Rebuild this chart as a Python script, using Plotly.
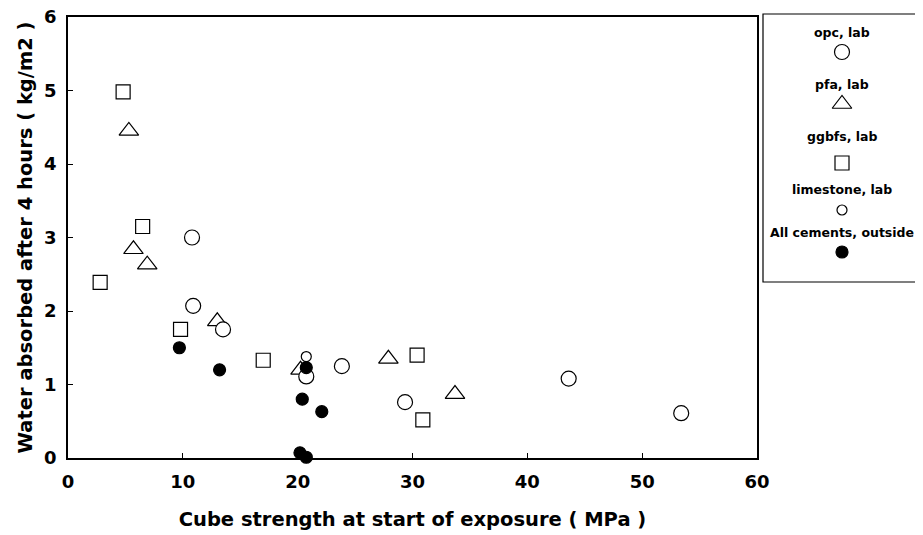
import plotly.graph_objects as go

# ---- data ----
opc_x = [10.8, 10.9, 13.5, 20.75, 23.85, 29.35, 43.6, 53.4]
opc_y = [3.00, 2.07, 1.75, 1.11, 1.25, 0.76, 1.08, 0.61]

pfa_x = [5.3, 5.7, 6.9, 13.0, 20.25, 27.9, 33.7]
pfa_y = [4.45, 2.84, 2.63, 1.86, 1.20, 1.35, 0.87]

ggbfs_x = [4.8, 6.5, 2.8, 9.8, 17.0, 30.4, 30.9]
ggbfs_y = [4.98, 3.15, 2.39, 1.75, 1.33, 1.40, 0.52]

lime_x = [20.75]
lime_y = [1.38]

out_x = [9.7, 13.2, 20.75, 20.4, 22.1, 20.2, 20.75]
out_y = [1.50, 1.20, 1.23, 0.80, 0.63, 0.07, 0.01]

series_names = ["opc, lab", "pfa, lab", "ggbfs, lab", "limestone, lab", "All cements, outside"]

x_ticks = [0, 10, 20, 30, 40, 50, 60]
y_ticks = [0, 1, 2, 3, 4, 5, 6]

# ---- layout geometry (page pixels; the page body has an 8px margin) ----
OFF = 8
PAGE_W, PAGE_H = 923, 535
W, H = PAGE_W - OFF, PAGE_H - OFF
plot_left, plot_top, plot_bottom, plot_right = 68, 17, 458, 757   # page coords
leg_left, leg_right, leg_top, leg_bot = 763, 921, 14, 282          # page coords
paper_top = min(plot_top, leg_top)
ML = plot_left - OFF
MT = paper_top - OFF
MB = PAGE_H - plot_bottom
paper_w = W - ML
paper_h = H - MT - MB
main_dom_x = [0, (plot_right - plot_left) / paper_w]
main_dom_y = [0, (plot_bottom - plot_top) / paper_h]
leg_dom_x = [(leg_left - plot_left) / paper_w, (leg_right - plot_left) / paper_w]
leg_dom_y = [(plot_bottom - leg_bot) / paper_h, (plot_bottom - leg_top) / paper_h]

FONT = "DejaVu Sans, Liberation Sans, sans-serif"

styles = [
    dict(symbol="circle", size=15),
    dict(symbol="triangle-up", size=17),
    dict(symbol="square", size=14),
    dict(symbol="circle", size=10),
    dict(symbol="circle", size=12),
]

fig = go.Figure()

def add(xs, ys, st, filled, name, xa="x", ya="y"):
    fig.add_trace(go.Scatter(
        x=xs, y=ys, mode="markers", name=name, xaxis=xa, yaxis=ya,
        showlegend=False, hoverinfo="skip" if xa != "x" else None,
        cliponaxis=False,
        marker=dict(symbol=st["symbol"], size=st["size"],
                    color="black" if filled else "white",
                    line=dict(color="black", width=1.2)),
    ))

# draw order: triangles, squares, circles, limestone, outside
add(pfa_x, pfa_y, styles[1], False, series_names[1])
add(ggbfs_x, ggbfs_y, styles[2], False, series_names[2])
add(opc_x, opc_y, styles[0], False, series_names[0])
add(lime_x, lime_y, styles[3], False, series_names[3])
add(out_x, out_y, styles[4], True, series_names[4])

# ---- hand-built legend (text above symbol) ----
leg_text_y = [32, 84, 136, 189, 232]
leg_mark_y = [52, 104, 163, 210, 252]
for i, name in enumerate(series_names):
    add([0.5], [leg_mark_y[i]], styles[i], i == 4, name, xa="x2", ya="y2")
    fig.add_annotation(x=0.5, y=leg_text_y[i], xref="x2", yref="y2",
                       text="<b>%s</b>" % name, showarrow=False,
                       font=dict(family=FONT, size=12.5, color="black"))

fig.add_shape(type="rect", xref="paper", yref="paper",
              x0=leg_dom_x[0], x1=leg_dom_x[1], y0=leg_dom_y[0], y1=leg_dom_y[1],
              line=dict(color="black", width=1.2), layer="below")

axis_common = dict(showgrid=False, zeroline=False, showline=True, mirror=True,
                   linecolor="black", linewidth=1.5, ticks="inside", ticklen=5,
                   tickcolor="black", tickwidth=1, automargin=False,
                   ticklabeloverflow="allow",
                   tickfont=dict(family=FONT, size=18, color="black"))

fig.update_layout(
    width=W, height=H,
    margin=dict(l=ML, r=0, t=MT, b=MB),
    paper_bgcolor="white", plot_bgcolor="white",
    xaxis=dict(domain=main_dom_x, range=[0, 60], tickvals=x_ticks,
               ticktext=["<b>%d</b>" % v for v in x_ticks],
               ticklabelstandoff=7,
               title=dict(text="<b>Cube strength at start of exposure ( MPa )</b>",
                          font=dict(family=FONT, size=19.5, color="black"), standoff=21),
               **axis_common),
    yaxis=dict(domain=main_dom_y, range=[0, 6], tickvals=y_ticks,
               ticktext=["<b>%d</b>" % v for v in y_ticks],
               ticklabelstandoff=6,
               title=dict(text="<b>Water absorbed after 4 hours ( kg/m2 )</b>",
                          font=dict(family=FONT, size=19.5, color="black"), standoff=6),
               **axis_common),
    xaxis2=dict(domain=leg_dom_x, range=[0, 1], visible=False, anchor="y2"),
    yaxis2=dict(domain=leg_dom_y, range=[leg_bot, leg_top], visible=False, anchor="x2"),
)

fig.write_html("out.html")
